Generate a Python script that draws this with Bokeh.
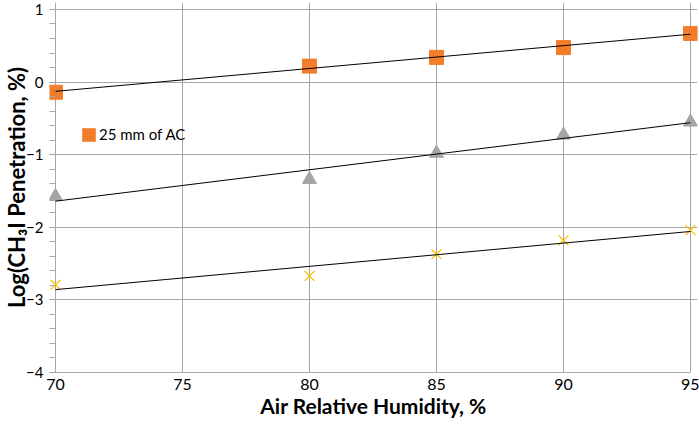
import numpy as np
from bokeh.plotting import figure
from bokeh.models import Range1d, FixedTicker, Legend, LegendItem
from bokeh.embed import file_html
from bokeh.resources import INLINE

# ---- data ----
rh = [70, 80, 85, 90, 95]
ac_25mm = [-0.14, 0.22, 0.34, 0.475, 0.67]
series_tri = [-1.575, -1.34, -0.98, -0.73, -0.55]
series_x = [-2.79, -2.67, -2.37, -2.18, -2.04]

x_ticks = [70, 75, 80, 85, 90, 95]
y_ticks = [-4, -3, -2, -1, 0, 1]
y_minor = [round(-4 + 0.2 * i, 1) for i in range(26)]

ORANGE = "#F27D2A"
GRAY = "#A5A5A5"
YELLOW = "#FFC000"
GRID = "#A6A6A6"
FONT = "Lato"

X0, X1 = 70, 95
Y0, Y1 = -4, 1

p = figure(width=699, height=424, output_backend="svg", toolbar_location=None,
           x_range=Range1d(69.764, 95.276), y_range=Range1d(-4, 1.096),
           min_border_left=40, min_border_right=2, min_border_top=2,
           min_border_bottom=52)
p.background_fill_color = "white"
p.border_fill_color = "white"
p.outline_line_color = None

# grids (limited to the data box); the x=70 line acts as the y-axis line
p.xgrid.ticker = FixedTicker(ticks=x_ticks)
p.ygrid.ticker = FixedTicker(ticks=y_ticks)
p.xgrid.bounds = (Y0, Y1)
p.ygrid.bounds = (X0, X1)
for g in (p.xgrid, p.ygrid):
    g.grid_line_color = GRID
    g.grid_line_width = 1

# axes
p.xaxis.ticker = FixedTicker(ticks=x_ticks)
p.yaxis.ticker = FixedTicker(ticks=y_ticks, minor_ticks=y_minor)
for ax in (p.xaxis, p.yaxis):
    ax.major_label_text_font = FONT
    ax.major_label_text_color = "#000000"
    ax.axis_label_text_font = FONT
    ax.axis_label_text_font_style = "bold"
    ax.axis_label_text_color = "#000000"

p.xaxis.axis_line_color = GRID
p.xaxis.bounds = (X0, X1)
p.xaxis.major_tick_line_color = None
p.xaxis.minor_tick_line_color = None
p.xaxis.major_tick_out = 0
p.xaxis.minor_tick_out = 0
p.xaxis.major_tick_in = 0
p.xaxis.minor_tick_in = 0
p.xaxis.major_label_text_font_size = "16px"
p.xaxis.major_label_standoff = 6
p.xaxis.axis_label = "Air Relative Humidity, %"
p.xaxis.axis_label_text_font_size = "21px"
p.xaxis.axis_label_standoff = 0

p.yaxis.axis_line_color = None
p.yaxis.major_tick_line_color = GRID
p.yaxis.minor_tick_line_color = GRID
p.yaxis.major_tick_in = 6
p.yaxis.major_tick_out = 0
p.yaxis.minor_tick_in = 6
p.yaxis.minor_tick_out = 0
p.yaxis.major_label_text_font_size = "15px"
p.yaxis.major_label_standoff = 6
p.yaxis.axis_label = "Log(CH\u2083I Penetration, %)"
p.yaxis.axis_label_text_font_size = "22px"
p.yaxis.axis_label_standoff = -7

# markers
p.scatter(rh, ac_25mm, marker="square", size=14, fill_color=ORANGE,
          line_color=ORANGE)
p.scatter(rh, series_tri, marker="triangle", size=14, fill_color=GRAY,
          line_color=GRAY)
p.scatter(rh, series_x, marker="x", size=14, line_color=YELLOW,
          line_width=1.3)

# linear trend lines
xs = np.array([70.0, 95.0])
for ys in (ac_25mm, series_tri, series_x):
    k, b = np.polyfit(rh, ys, 1)
    p.line(xs, k * xs + b, line_color="black", line_width=1)

# legend swatch: a zero-size rect on the first point of the series, so only
# its legend entry is visible (the reference labels just this series)
swatch = p.rect(x=rh[:1], y=ac_25mm[:1], width=0, height=0,
                fill_color=ORANGE, line_color=None)
legend = Legend(items=[LegendItem(label="25 mm of AC", renderers=[swatch])],
                location=(31, 229), glyph_width=17, glyph_height=17,
                label_height=17, label_standoff=2, padding=0, margin=0,
                spacing=0, border_line_color=None, background_fill_alpha=0,
                label_text_font=FONT, label_text_font_size="15px",
                label_text_color="#000000")
p.add_layout(legend, "center")

open("out.html", "w").write(file_html(p, INLINE))
